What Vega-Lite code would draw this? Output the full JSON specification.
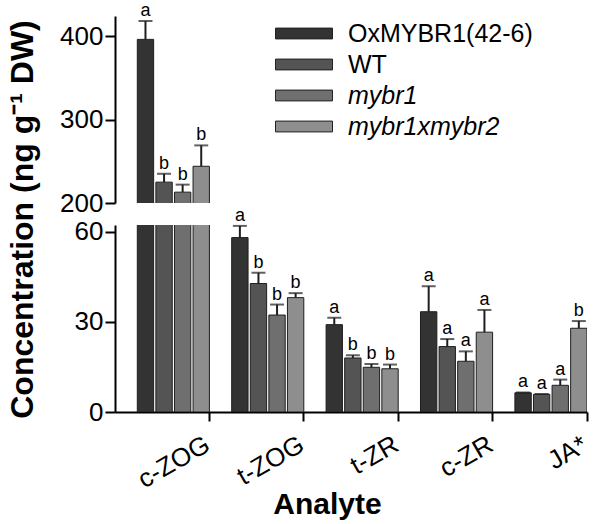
{
  "$schema": "https://vega.github.io/schema/vega-lite/v6.json",
  "padding": {"left": 5, "top": 2, "right": 5, "bottom": 2},
  "bounds": "flush",
  "config": {
    "view": {"stroke": null},
    "font": "Liberation Sans",
    "axis": {"grid": false, "domainColor": "black", "domainWidth": 2, "tickColor": "black", "tickWidth": 2, "tickSize": 10, "labelColor": "black", "labelFontSize": 26, "titleColor": "black", "labelFont": "Liberation Sans", "titleFont": "Liberation Sans"}
  },
  "data": {"values": [
    {"analyte": "c-ZOG", "genotype": "OxMYBR1(42-6)", "value": 396, "upper": 418, "letter": "a"},
    {"analyte": "c-ZOG", "genotype": "WT", "value": 225, "upper": 235, "letter": "b"},
    {"analyte": "c-ZOG", "genotype": "mybr1", "value": 213, "upper": 222, "letter": "b"},
    {"analyte": "c-ZOG", "genotype": "mybr1xmybr2", "value": 244, "upper": 269, "letter": "b"},
    {"analyte": "t-ZOG", "genotype": "OxMYBR1(42-6)", "value": 58.1, "upper": 62, "letter": "a"},
    {"analyte": "t-ZOG", "genotype": "WT", "value": 42.8, "upper": 46.4, "letter": "b"},
    {"analyte": "t-ZOG", "genotype": "mybr1", "value": 32.3, "upper": 35.8, "letter": "b"},
    {"analyte": "t-ZOG", "genotype": "mybr1xmybr2", "value": 38.1, "upper": 39.6, "letter": "b"},
    {"analyte": "t-ZR", "genotype": "OxMYBR1(42-6)", "value": 29.1, "upper": 31.4, "letter": "a"},
    {"analyte": "t-ZR", "genotype": "WT", "value": 18, "upper": 18.9, "letter": "b"},
    {"analyte": "t-ZR", "genotype": "mybr1", "value": 14.9, "upper": 16, "letter": "b"},
    {"analyte": "t-ZR", "genotype": "mybr1xmybr2", "value": 14.4, "upper": 15.8, "letter": "b"},
    {"analyte": "c-ZR", "genotype": "OxMYBR1(42-6)", "value": 33.4, "upper": 41.9, "letter": "a"},
    {"analyte": "c-ZR", "genotype": "WT", "value": 21.8, "upper": 24.3, "letter": "a"},
    {"analyte": "c-ZR", "genotype": "mybr1", "value": 16.9, "upper": 20.2, "letter": "a"},
    {"analyte": "c-ZR", "genotype": "mybr1xmybr2", "value": 26.6, "upper": 34, "letter": "a"},
    {"analyte": "JA*", "genotype": "OxMYBR1(42-6)", "value": 6.4, "upper": 6.5, "letter": "a"},
    {"analyte": "JA*", "genotype": "WT", "value": 5.9, "upper": 6.0, "letter": "a"},
    {"analyte": "JA*", "genotype": "mybr1", "value": 8.9, "upper": 10.8, "letter": "a"},
    {"analyte": "JA*", "genotype": "mybr1xmybr2", "value": 27.9, "upper": 30.3, "letter": "b"}
  ]},
  "resolve": {"scale": {"y": "independent"}},
  "spacing": 22,
  "vconcat": [
    {
      "width": 472,
      "height": 187,
      "encoding": {
        "x": {"field": "analyte", "type": "nominal", "sort": ["c-ZOG", "t-ZOG", "t-ZR", "c-ZR", "JA*"], "scale": {"domain": ["c-ZOG", "t-ZOG", "t-ZR", "c-ZR", "JA*"], "paddingInner": 0, "paddingOuter": 0}, "axis": null},
        "xOffset": {"field": "genotype", "type": "nominal", "sort": ["OxMYBR1(42-6)", "WT", "mybr1", "mybr1xmybr2"], "scale": {"domain": ["OxMYBR1(42-6)", "WT", "mybr1", "mybr1xmybr2"], "paddingInner": 0.12, "paddingOuter": 0.6, "align": 1}}
      },
      "layer": [
        {
          "mark": {"type": "bar", "clip": true, "stroke": "#1e1e1e", "strokeWidth": 1},
          "encoding": {
            "y": {"field": "value", "type": "quantitative", "scale": {"domain": [200, 424], "nice": false, "zero": false}, "axis": {"values": [200, 300, 400], "title": null}},
            "color": {"field": "genotype", "type": "nominal", "sort": ["OxMYBR1(42-6)", "WT", "mybr1", "mybr1xmybr2"],
              "scale": {"domain": ["OxMYBR1(42-6)", "WT", "mybr1", "mybr1xmybr2"], "range": ["#333333", "#545454", "#6f6f6f", "#8e8e8e"]},
              "legend": {"orient": "none", "legendX": 160, "legendY": 2, "title": null, "symbolType": "M-1,-0.19H1V0.19H-1Z", "symbolSize": 3249, "symbolStrokeWidth": 1, "symbolStrokeColor": "#222222", "labelFontSize": 25, "labelOffset": 15, "labelLimit": 0, "rowPadding": 0, "clipHeight": 31, "labelColor": "black", "labelFont": "Liberation Sans",
                "encode": {"labels": {"update": {"fontStyle": {"signal": "indexof(datum.label, 'mybr') === 0 ? 'italic' : 'normal'"}}}}}
            }
          }
        },
        {
          "transform": [{"filter": "datum.analyte == 'c-ZOG'"}],
          "mark": {"type": "rule", "strokeWidth": 2, "color": "#1e1e1e"},
          "encoding": {
            "y": {"field": "value", "type": "quantitative", "scale": {"domain": [200, 424], "nice": false, "zero": false}},
            "y2": {"field": "upper"}
          }
        },
        {
          "transform": [{"filter": "datum.analyte == 'c-ZOG'"}],
          "mark": {"type": "tick", "thickness": 2, "size": 14, "color": "#1e1e1e"},
          "encoding": {
            "y": {"field": "upper", "type": "quantitative", "scale": {"domain": [200, 424], "nice": false, "zero": false}}
          }
        },
        {
          "transform": [{"filter": "datum.analyte == 'c-ZOG'"}],
          "mark": {"type": "text", "fontSize": 18, "baseline": "alphabetic", "dy": -5, "color": "black", "font": "Liberation Sans"},
          "encoding": {
            "y": {"field": "upper", "type": "quantitative", "scale": {"domain": [200, 424], "nice": false, "zero": false}},
            "text": {"field": "letter"}
          }
        }
      ]
    },
    {
      "width": 472,
      "height": 187,
      "encoding": {
        "x": {"field": "analyte", "type": "nominal", "sort": ["c-ZOG", "t-ZOG", "t-ZR", "c-ZR", "JA*"], "scale": {"domain": ["c-ZOG", "t-ZOG", "t-ZR", "c-ZR", "JA*"], "paddingInner": 0, "paddingOuter": 0},
          "axis": {"title": "Analyte", "titleFontSize": 30, "titleFontWeight": "bold", "titleX": 212, "titleY": 101, "titleAlign": "center", "titleBaseline": "alphabetic", "labelAngle": -30, "labelAlign": "right", "labelBaseline": "top", "labelOffset": 39, "labelPadding": 10, "tickSize": 9, "bandPosition": 1}},
        "xOffset": {"field": "genotype", "type": "nominal", "sort": ["OxMYBR1(42-6)", "WT", "mybr1", "mybr1xmybr2"], "scale": {"domain": ["OxMYBR1(42-6)", "WT", "mybr1", "mybr1xmybr2"], "paddingInner": 0.12, "paddingOuter": 0.6, "align": 1}}
      },
      "layer": [
        {
          "mark": {"type": "bar", "clip": true, "stroke": "#1e1e1e", "strokeWidth": 1},
          "encoding": {
            "y": {"field": "value", "type": "quantitative", "scale": {"domain": [0, 62.3], "nice": false}, "axis": {"values": [0, 30, 60], "title": "Concentration (ng g⁻¹ DW)", "titleFontSize": 32, "titleFontWeight": "bold", "titleX": -83, "titleY": -6, "titleAlign": "center", "titleBaseline": "alphabetic", "titleAngle": -90}},
            "color": {"field": "genotype", "type": "nominal", "sort": ["OxMYBR1(42-6)", "WT", "mybr1", "mybr1xmybr2"], "scale": {"domain": ["OxMYBR1(42-6)", "WT", "mybr1", "mybr1xmybr2"], "range": ["#333333", "#545454", "#6f6f6f", "#8e8e8e"]}}
          }
        },
        {
          "transform": [{"filter": "datum.analyte != 'c-ZOG'"}],
          "mark": {"type": "rule", "strokeWidth": 2, "color": "#1e1e1e"},
          "encoding": {
            "y": {"field": "value", "type": "quantitative", "scale": {"domain": [0, 62.3], "nice": false}},
            "y2": {"field": "upper"}
          }
        },
        {
          "transform": [{"filter": "datum.analyte != 'c-ZOG'"}],
          "mark": {"type": "tick", "thickness": 2, "size": 14, "color": "#1e1e1e"},
          "encoding": {
            "y": {"field": "upper", "type": "quantitative", "scale": {"domain": [0, 62.3], "nice": false}}
          }
        },
        {
          "transform": [{"filter": "datum.analyte != 'c-ZOG'"}],
          "mark": {"type": "text", "fontSize": 18, "baseline": "alphabetic", "dy": -5, "color": "black", "font": "Liberation Sans"},
          "encoding": {
            "y": {"field": "upper", "type": "quantitative", "scale": {"domain": [0, 62.3], "nice": false}},
            "text": {"field": "letter"}
          }
        }
      ]
    }
  ]
}
